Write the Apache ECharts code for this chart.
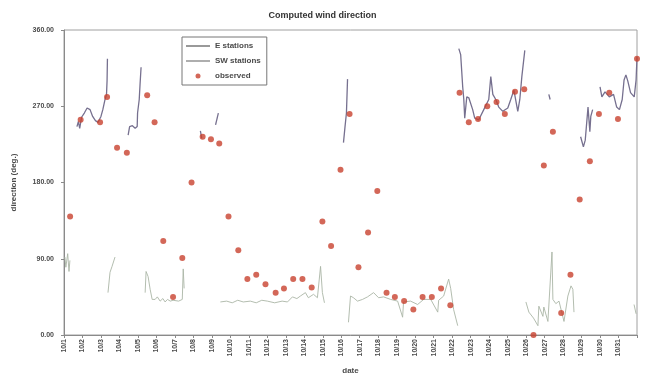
<!DOCTYPE html>
<html>
<head>
<meta charset="utf-8">
<script src="https://cdn.jsdelivr.net/npm/echarts@6/dist/echarts.min.js"></script>
<style>
  html, body { margin: 0; padding: 0; background: #fff; }
  #chart { width: 645px; height: 380px; }
</style>
</head>
<body>
<div id="chart"></div>
<script>
// tick labels (day 0 = 10/1)
var dateLabels = ['10/1','10/2','10/3','10/4','10/5','10/6','10/7','10/8','10/9','10/10',
  '10/11','10/12','10/13','10/14','10/15','10/16','10/17','10/18','10/19','10/20',
  '10/21','10/22','10/23','10/24','10/25','10/26','10/27','10/28','10/29','10/30','10/31'];
var yTicks = [0, 90, 180, 270, 360];

// observed direction [day, deg]
var observed = [[0.33,140],[0.9,254],[1.95,251],[2.33,281],[2.87,221],[3.4,215],[4.5,283],
  [4.9,251],[5.37,111],[5.9,45],[6.4,91],[6.9,180],[7.5,234],[7.95,231],[8.4,226],
  [8.9,140],[9.43,100],[9.92,66],[10.4,71],[10.9,60],[11.45,50],[11.9,55],[12.4,66],
  [12.9,66],[13.4,56],[13.98,134],[14.45,105],[14.96,195],[15.45,261],[15.93,80],
  [16.45,121],[16.95,170],[17.45,50],[17.9,45],[18.4,40],[18.9,30],[19.4,45],[19.9,45],
  [20.4,55],[20.9,35],[21.4,286],[21.9,251],[22.4,255],[22.9,270],[23.4,275],[23.85,261],
  [24.4,287],[24.9,290],[25.4,0],[25.96,200],[26.45,240],[26.9,26],[27.4,71],[27.9,160],
  [28.45,205],[28.94,261],[29.5,286],[29.97,255],[31,326]];

// E stations, pieces of the computed line
var eStations1 = [[0.70,246],[0.78,252],[0.85,244],[0.95,257],[1.1,262],[1.25,268],[1.41,266],
  [1.55,258],[1.7,253],[1.84,251],[2.0,258],[2.1,266],[2.22,278],[2.3,284],[2.33,300],[2.35,326]];
var eStations2 = [[3.47,236],[3.55,246],[3.7,247],[3.85,244],[3.96,246],[3.98,262],[4.07,278],
  [4.12,298],[4.17,316]];
var eStations3 = [[7.38,241],[7.45,232]];
var eStations4 = [[8.2,248],[8.35,262]];
var eStations5 = [[15.12,227],[15.2,245],[15.28,262],[15.34,302]];
var eStations6 = [[21.36,338],[21.46,331],[21.57,293],[21.63,278],[21.68,256],[21.79,281],
  [21.9,280],[22.11,266],[22.22,256],[22.44,254],[22.71,266],[22.98,278],[23.09,305],[23.2,284],
  [23.36,278],[23.52,269],[23.74,264],[24.01,268],[24.17,278],[24.34,289],[24.55,264],[24.66,278],
  [24.77,305],[24.93,336]];
var eStations7 = [[26.23,284],[26.3,278]];
var eStations8 = [[27.95,234],[28.1,222],[28.2,230],[28.35,269],[28.45,240],[28.5,258],[28.6,266]];
var eStations9 = [[29.0,293],[29.1,281],[29.27,287],[29.5,281],[29.73,284],[29.9,269],[30.05,266],
  [30.2,278],[30.3,301],[30.4,307],[30.5,300],[30.65,286],[30.85,281],[30.95,301],[31.0,328]];

// SW stations, pieces of the computed line
var swStations1 = [[0.05,92],[0.1,80],[0.2,96],[0.27,75],[0.32,88]];
var swStations2 = [[2.38,50],[2.49,74],[2.6,81],[2.76,92]];
var swStations3 = [[4.39,50],[4.44,75],[4.55,69],[4.66,54],[4.77,42],[4.93,42],[5.05,45],[5.2,40],
  [5.35,43],[5.47,39],[5.6,42],[5.75,40],[5.9,41],[6.2,40],[6.4,42],[6.45,78],[6.5,55]];
var swStations4 = [[8.46,39],[8.8,40],[9.1,38],[9.4,41],[9.7,39],[10.08,40],[10.4,38],[10.7,41],
  [11.0,40],[11.4,38],[11.8,40],[12.09,39],[12.36,45],[12.6,43],[12.79,46],[13.06,50],[13.22,44],
  [13.5,48],[13.71,44],[13.88,81],[13.98,50],[14.09,38]];
var swStations5 = [[15.39,15],[15.5,46],[15.66,44],[15.88,40],[16.15,42],[16.42,45],[16.75,50],
  [17.02,44],[17.29,45],[17.67,42],[18.05,40],[18.32,21],[18.37,39],[18.75,40],[19.13,36],
  [19.46,42],[19.84,42],[20.22,27],[20.27,41],[20.54,46],[20.81,66],[20.92,55],[21.08,30],[21.3,11]];
var swStations6 = [[24.99,39],[25.15,27],[25.4,20],[25.64,11],[25.69,34],[25.91,22],[25.96,33],
  [26.18,16],[26.4,98],[26.45,42],[26.61,37],[26.78,40],[27.05,16],[27.26,46],[27.43,58],
  [27.53,54],[27.59,27]];
var swStations7 = [[30.84,36],[30.95,25]];

var eParts = [eStations1, eStations2, eStations3, eStations4, eStations5, eStations6,
  eStations7, eStations8, eStations9];
var swParts = [swStations1, swStations2, swStations3, swStations4, swStations5, swStations6,
  swStations7];

var textColor = '#4a4a4a';
var eColor = '#76708f';
var swColor = '#aab5a6';
var obsColor = '#c8412e';
var lineIcon = 'path://M0,0H24V1.2H0Z';

var series = [];
eParts.forEach(function (p) {
  series.push({
    name: 'E stations', type: 'line', data: p, symbol: 'none',
    lineStyle: { color: eColor, width: 1.3 }, itemStyle: { color: eColor }, z: 3
  });
});
swParts.forEach(function (p) {
  series.push({
    name: 'SW stations', type: 'line', data: p, symbol: 'none',
    lineStyle: { color: swColor, width: 0.9 }, itemStyle: { color: swColor }, z: 2
  });
});
series.push({
  name: 'observed', type: 'scatter', data: observed, symbol: 'circle', symbolSize: 6,
  itemStyle: { color: obsColor }, z: 4
});

var chart = echarts.init(document.getElementById('chart'));
chart.setOption({
  animation: false,
  backgroundColor: '#fff',
  title: {
    text: 'Computed wind direction', left: 'center', top: 6,
    textStyle: { fontFamily: 'Liberation Sans', fontSize: 9, fontWeight: 'bold', color: '#333' }
  },
  legend: {
    orient: 'vertical', left: 182, top: 37,
    data: [
      { name: 'E stations', icon: lineIcon, itemStyle: { color: '#555' } },
      { name: 'SW stations', icon: lineIcon, itemStyle: { color: '#777' } },
      { name: 'observed', icon: 'circle' }
    ],
    borderColor: '#777', borderWidth: 1, padding: [5, 6, 5, 4], itemGap: 7,
    itemWidth: 24, itemHeight: 5, backgroundColor: '#fff',
    textStyle: { fontFamily: 'Liberation Sans', fontSize: 8, fontWeight: 'bold', color: textColor }
  },
  grid: {
    left: 64, right: 8, top: 30, bottom: 44,
    show: true, borderColor: '#a0a0a0', borderWidth: 1
  },
  xAxis: {
    type: 'value', min: 0, max: 31, interval: 1,
    name: 'date', nameLocation: 'middle', nameGap: 32,
    nameTextStyle: { fontFamily: 'Liberation Sans', fontSize: 8, fontWeight: 'bold', color: textColor },
    axisLine: { lineStyle: { color: '#8a8a8a' } },
    axisTick: { length: 3, lineStyle: { color: '#8a8a8a' } },
    splitLine: { show: false },
    axisLabel: {
      rotate: 90, fontSize: 7, fontWeight: 'bold', fontFamily: 'Liberation Sans',
      color: textColor, margin: 4, showMaxLabel: true,
      formatter: function (v) { return dateLabels[v] || ''; }
    }
  },
  yAxis: {
    type: 'value', min: yTicks[0], max: yTicks[yTicks.length - 1], interval: 90,
    name: 'direction (deg.)', nameLocation: 'middle', nameGap: 46,
    nameTextStyle: { fontFamily: 'Liberation Sans', fontSize: 8, fontWeight: 'bold', color: textColor },
    axisLine: { show: true, lineStyle: { color: '#8a8a8a' } },
    axisTick: { show: true, length: 3, lineStyle: { color: '#8a8a8a' } },
    splitLine: { show: false },
    axisLabel: {
      fontSize: 7, fontWeight: 'bold', fontFamily: 'Liberation Sans', color: textColor, margin: 10,
      formatter: function (v) { return v.toFixed(2); }
    }
  },
  series: series
});
</script>
</body>
</html>
